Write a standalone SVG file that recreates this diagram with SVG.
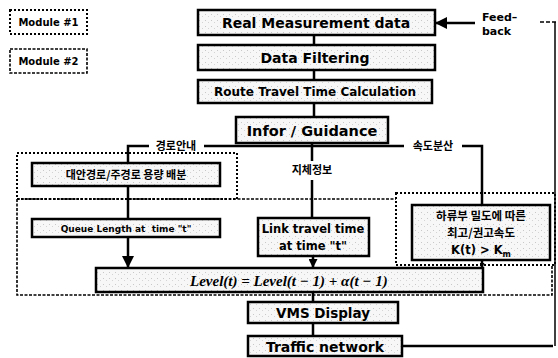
<svg xmlns="http://www.w3.org/2000/svg" width="558" height="358" viewBox="0 0 558 358">
  <defs>
    <marker id="arrow" viewBox="0 0 10 10" refX="10" refY="5" markerWidth="5" markerHeight="5" orient="auto" markerUnits="userSpaceOnUse">
      <path d="M0,0 L10,5 L0,10 z" fill="#000"/>
    </marker>
    <marker id="arrowBig" viewBox="0 0 10 10" refX="10" refY="5" markerWidth="12" markerHeight="12" orient="auto" markerUnits="userSpaceOnUse">
      <path d="M0,0 L10,5 L0,10 z" fill="#000"/>
    </marker>
    <marker id="arrowSmall" viewBox="0 0 10 10" refX="10" refY="5" markerWidth="9" markerHeight="9" orient="auto" markerUnits="userSpaceOnUse">
      <path d="M0,0 L10,5 L0,10 z" fill="#000"/>
    </marker>
    <pattern id="grain" width="6" height="6" patternUnits="userSpaceOnUse">
      <rect width="6" height="6" fill="#f7f7f7"/>
      <rect x="1" y="2" width="1" height="1" fill="#c8c8c8"/>
      <rect x="4" y="4" width="1" height="1" fill="#d4d4d4"/>
    </pattern>
  </defs>
  <style>
    .box { fill: url(#grain); stroke: #000; stroke-width: 2.5; }
    .mod1 { fill: none; stroke: #000; stroke-width: 2; stroke-dasharray: 2 2; }
    .mod2 { fill: none; stroke: #000; stroke-width: 1.6; stroke-dasharray: 3 1.5; }
    .lbl { font-family: "DejaVu Sans", "Liberation Sans", sans-serif; font-weight: bold; fill: #000; text-anchor: middle; }
    .kr { font-family: "Noto Sans CJK KR", "DejaVu Sans", sans-serif; font-weight: bold; fill: #000; text-anchor: middle; }
    .eq { font-family: "Liberation Serif", "DejaVu Serif", serif; font-style: italic; font-weight: bold; fill: #000; }
    .wire { fill: none; stroke: #000; stroke-width: 2.5; }
    .thin { fill: none; stroke: #000; stroke-width: 1.5; }
  </style>

  <rect width="558" height="358" fill="#fff"/>

  <!-- legend -->
  <g id="legend-module1">
    <rect class="mod1" x="10" y="10" width="77" height="24"/>
    <text class="lbl" x="48.5" y="26" font-size="10">Module #1</text>
  </g>
  <g id="legend-module2">
    <rect class="mod2" x="10" y="49" width="77" height="24"/>
    <text class="lbl" x="48.5" y="65" font-size="10">Module #2</text>
  </g>

  <!-- module regions -->
  <g id="regions">
    <rect class="mod1" x="17" y="153" width="220" height="46"/>
    <path class="mod2" d="M17,199 H396 M17,199 V295 H552 V265"/>
    <rect class="mod1" x="396" y="193" width="159" height="72"/>
  </g>

  <!-- connectors -->
  <g id="connectors">
    <path class="wire" d="M314,35 V45 M314,70 V80 M314,103 V117"/>
    <path class="wire" d="M312,143 V161 M312,180 V218"/>
    <path class="wire" d="M128,163 V146 H149 M204,146 H404 M462,146 H482 V205"/>
    <path class="wire" d="M128,186 V219"/>
    <path class="wire" d="M128,237 V268" marker-end="url(#arrowBig)"/>
    <path class="wire" d="M313,256 V268" marker-end="url(#arrowSmall)"/>
    <path class="wire" d="M482,260 V268" marker-end="url(#arrow)"/>
    <path class="wire" d="M313,292 V302 M313,323 V336"/>
    <path class="wire" d="M402,346 H553"/>
    <path class="thin" d="M555,346 V22" stroke="#bbb" stroke-width="1"/>
    <path class="thin" d="M540,22 H556" stroke-dasharray="4 2"/>
    <path class="wire" d="M475,23 H435" marker-end="url(#arrowBig)"/>
    <text class="kr" x="176" y="150" font-size="11">경로안내</text>
    <text class="kr" x="433" y="150" font-size="11">속도분산</text>
    <text class="kr" x="312" y="174" font-size="11">지체정보</text>
    <text class="lbl" x="482" y="21" font-size="11" style="text-anchor:start">Feed–</text>
    <text class="lbl" x="482" y="35" font-size="11" style="text-anchor:start">back</text>
  </g>

  <!-- processing chain -->
  <g id="node-real-measurement">
    <rect class="box" x="198" y="10" width="237" height="25"/>
    <text class="lbl" x="316" y="28" font-size="14">Real Measurement data</text>
  </g>
  <g id="node-data-filtering">
    <rect class="box" x="198" y="45" width="237" height="25"/>
    <text class="lbl" x="315" y="63" font-size="14">Data Filtering</text>
  </g>
  <g id="node-route-travel-time">
    <rect class="box" x="198" y="80" width="234" height="23"/>
    <text class="lbl" x="315" y="96" font-size="12">Route Travel Time Calculation</text>
  </g>
  <g id="node-infor-guidance">
    <rect class="box" x="236" y="117" width="152" height="26"/>
    <text class="lbl" x="312" y="135.5" font-size="14.5">Infor / Guidance</text>
  </g>
  <g id="node-capacity-split">
    <rect class="box" x="32" y="163" width="188" height="23"/>
    <text class="kr" x="126" y="179" font-size="11">대안경로/주경로 용량 배분</text>
  </g>
  <g id="node-queue-length">
    <rect class="box" x="32" y="219" width="188" height="18"/>
    <text class="lbl" x="126" y="232" font-size="9">Queue Length at&#160; time "t"</text>
  </g>
  <g id="node-link-travel-time">
    <rect class="box" x="258" y="218" width="111" height="38"/>
    <text class="lbl" x="313" y="233" font-size="11.5">Link travel time</text>
    <text class="lbl" x="313" y="250" font-size="11.5">at time "t"</text>
  </g>
  <g id="node-speed-limit">
    <rect class="box" x="412" y="205" width="138" height="55"/>
    <text class="kr" x="481" y="220" font-size="11.5">하류부 밀도에 따른</text>
    <text class="kr" x="481" y="237" font-size="11.5">최고/권고속도</text>
    <text class="lbl" x="481" y="254" font-size="11.5">K(t) &gt; K<tspan font-size="8" dy="3">m</tspan></text>
  </g>
  <g id="node-level">
    <rect class="box" x="96" y="268" width="387" height="24"/>
    <text class="eq" x="190" y="286" font-size="15">Level(t) = Level(t − 1) + α(t − 1)</text>
  </g>
  <g id="node-vms-display">
    <rect class="box" x="248" y="302" width="150" height="21"/>
    <text class="lbl" x="323" y="318" font-size="13.5">VMS Display</text>
  </g>
  <g id="node-traffic-network">
    <rect class="box" x="248" y="336" width="154" height="20"/>
    <text class="lbl" x="325" y="352" font-size="14">Traffic network</text>
  </g>
</svg>
